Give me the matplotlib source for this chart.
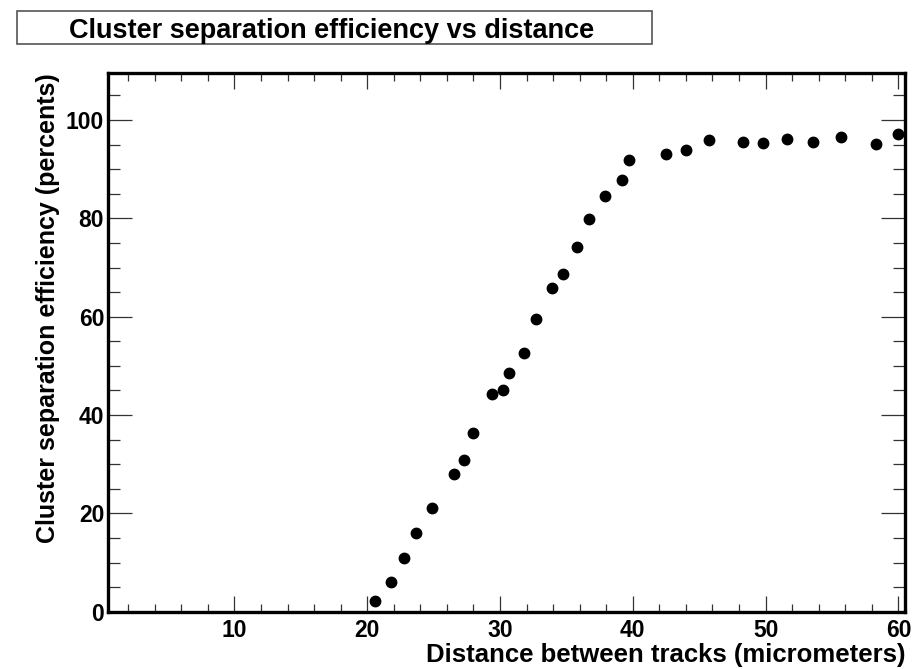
import numpy as np
import matplotlib
matplotlib.use('Agg')
import matplotlib.pyplot as plt
from matplotlib.patches import Rectangle
from matplotlib.ticker import MultipleLocator

############ data ############

distance = [20.6, 21.8, 22.8, 23.7, 24.9, 26.5, 27.3, 27.95, 29.4, 30.2,
            30.7, 31.8, 32.7, 33.9, 34.75, 35.8, 36.7, 37.9, 39.2, 39.7,
            42.5, 44.0, 45.7, 48.3, 49.8, 51.6, 53.55, 55.7, 58.3, 60.0]
efficiency = [2.2, 6.0, 10.9, 16.1, 21.0, 28.0, 30.9, 36.4, 44.2, 45.1,
              48.6, 52.7, 59.6, 65.8, 68.6, 74.1, 79.9, 84.6, 87.7, 91.8,
              93.1, 93.9, 96.0, 95.6, 95.3, 96.2, 95.6, 96.5, 95.1, 97.1]

title = 'Cluster separation efficiency vs distance'
xlabel = 'Distance between tracks (micrometers)'
ylabel = 'Cluster separation efficiency (percents)'

############ plot ############

plt.rcParams['font.family'] = ['Liberation Sans', 'DejaVu Sans']
plt.rcParams['font.weight'] = 'bold'

fig = plt.figure(figsize=(9.22, 6.69), dpi=100)
ax = fig.add_axes([0.1175, 0.0857, 0.9816 - 0.1175, 0.8904 - 0.0857])

ax.plot(distance, efficiency, 'o', color='black', ms=7.5, clip_on=False, zorder=3)

ax.set_xlim(0.5, 60.5)
ax.set_ylim(0, 109.5)
ax.xaxis.set_major_locator(MultipleLocator(10))
ax.xaxis.set_minor_locator(MultipleLocator(2))
ax.yaxis.set_major_locator(MultipleLocator(20))
ax.yaxis.set_minor_locator(MultipleLocator(5))

for s in ax.spines.values():
    s.set_linewidth(2.4)

ax.tick_params(axis='both', which='both', direction='in', top=True, right=True,
               labelsize=16.5, color='#333333', width=0.9)
ax.tick_params(axis='y', which='major', length=17, pad=3)
ax.tick_params(axis='y', which='minor', length=8.5)
ax.tick_params(axis='x', which='major', length=11.5, pad=5)
ax.tick_params(axis='x', which='minor', length=5.8)
for lab in ax.get_xticklabels() + ax.get_yticklabels():
    lab.set_fontweight('bold')

ax.set_xlabel(xlabel, fontsize=18.5, fontweight='bold', loc='right', labelpad=1)
ax.set_ylabel(ylabel, fontsize=18, fontweight='bold', loc='top', labelpad=4)

# title box, ROOT style
fig.patches.append(Rectangle((17 / 922, 1 - 44 / 669), (652 - 17) / 922, 33 / 669,
                             transform=fig.transFigure, facecolor='white',
                             edgecolor='#555555', linewidth=1.2))
fig.text(332 / 922, 1 - 28 / 669, title, ha='center', va='center_baseline',
         fontsize=19.5, fontweight='bold')

fig.savefig('out.png', dpi=100)
